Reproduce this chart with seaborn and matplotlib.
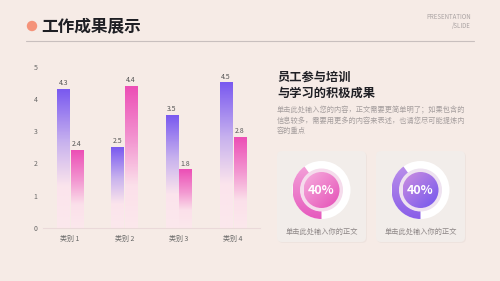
import numpy as np
import pandas as pd
import seaborn as sns
import matplotlib.pyplot as plt
from matplotlib.colors import LinearSegmentedColormap
from matplotlib.patches import Circle, Wedge, FancyBboxPatch

# data
categories = ["类别 1", "类别 2", "类别 3", "类别 4"]
series_a = [4.3, 2.5, 3.5, 4.5]
series_b = [2.4, 4.4, 1.8, 2.8]
y_ticks = [0, 1, 2, 3, 4, 5]
donut_pcts = [40, 40]
donut_captions = ["单击此处输入你的正文", "单击此处输入你的正文"]

title = "工作成果展示"
side_title = ["员工参与培训", "与学习的积极成果"]
side_body = ["单击此处输入您的内容，正文需要更简单明了；如果包含的",
             "信息较多，需要用更多的内容来表述，也请您尽可能提炼内",
             "容的重点"]

BG = "#F6EBE6"
FONTS = ["Noto Sans CJK SC", "DejaVu Sans"]

sns.set_theme(style="white")
plt.rcParams["font.family"] = FONTS

fig = plt.figure(figsize=(5, 2.81), dpi=100)
fig.patch.set_facecolor(BG)

# background / decoration layer in pixel coordinates
bg = fig.add_axes([0, 0, 1, 1], zorder=0)
bg.set_xlim(0, 500)
bg.set_ylim(281, 0)
bg.set_autoscale_on(False)
bg.axis("off")
bg.patch.set_alpha(0)

bg.add_patch(Circle((32, 26), 5.2, facecolor="#F5937A", edgecolor="none"))
bg.text(41, 26, title, fontsize=12, fontweight="bold", color="#1F1F24",
        va="center", ha="left")
bg.plot([26, 474], [41, 41], color="#C8BFBE", lw=0.8)
bg.text(471, 17, "PRESENTATION", fontsize=4.4, color="#A9A2A2", ha="right", va="center")
bg.text(471, 26, "/SLIDE", fontsize=4.4, color="#A9A2A2", ha="right", va="center")

bg.text(277, 77, side_title[0], fontsize=8.8, fontweight="bold", color="#1F1F24", va="center")
bg.text(277, 93, side_title[1], fontsize=8.8, fontweight="bold", color="#1F1F24", va="center")
for i, line in enumerate(side_body):
    bg.text(277, 110 + i * 10.6, line, fontsize=5.2, color="#A59E9E", va="center")

# donut cards
card_x = [277, 376]
ring_cols = [["#F4A6DA", "#E65BBE"], ["#BE92EA", "#8A5FE8"]]
core_cols = [["#F6AEDD", "#E54FB7"], ["#CC8EE0", "#7256EE"]]
halo_cols = ["#F5DCEC", "#EEE2F0"]


def grad_img(c0, c1, diag=True, n=80):
    cm = LinearSegmentedColormap.from_list("g", [c0, c1])
    xx, yy = np.meshgrid(np.linspace(0, 1, n), np.linspace(0, 1, n))
    t = (xx + yy) / 2 if diag else yy
    return cm(t)


for k, (x0, pct) in enumerate(zip(card_x, donut_pcts)):
    bg.add_patch(FancyBboxPatch((x0 + 1, 152), 89, 91, boxstyle="round,pad=0,rounding_size=5",
                                facecolor="#E9DEDA", edgecolor="none", alpha=0.6))
    bg.add_patch(FancyBboxPatch((x0, 151), 89, 91, boxstyle="round,pad=0,rounding_size=5",
                                facecolor="#F2EDEA", edgecolor="none"))
    cx, cy, R = x0 + 44.5, 190, 29
    bg.add_patch(Wedge((cx, cy), R, 0, 360, width=8, facecolor="white", edgecolor="none"))
    arc = Wedge((cx, cy), R, 90, 90 + pct / 100 * 360, width=8, facecolor="none", edgecolor="none")
    bg.add_patch(arc)
    im = bg.imshow(grad_img(*ring_cols[k], diag=False), extent=(cx - R, cx + R, cy + R, cy - R),
                   origin="upper", aspect="auto", zorder=2)
    im.set_clip_path(arc)
    bg.add_patch(Circle((cx, cy), 21.5, facecolor=halo_cols[k], edgecolor="none", zorder=2))
    core = Circle((cx, cy), 18, facecolor="none", edgecolor="none", zorder=3)
    bg.add_patch(core)
    im2 = bg.imshow(grad_img(*core_cols[k]), extent=(cx - 18, cx + 18, cy + 18, cy - 18),
                    origin="upper", aspect="auto", zorder=3)
    im2.set_clip_path(core)
    bg.text(cx, cy, f"{pct}%", fontsize=9, fontweight="bold", color="white",
            ha="center", va="center", zorder=4)
    bg.text(cx, 232, donut_captions[k], fontsize=5.2, color="#8E8787", ha="center", va="center")

bg.set_xlim(0, 500)
bg.set_ylim(281, 0)

# bar chart
df = pd.DataFrame({
    "cat": categories * 2,
    "val": series_a + series_b,
    "series": ["A"] * 4 + ["B"] * 4,
})

ax = fig.add_axes([0.086, 0.189, 0.434, 0.574], zorder=1)
ax.patch.set_alpha(0)
sns.barplot(data=df, x="cat", y="val", hue="series", width=0.5, gap=0.1,
            palette=["#7A5AF0", "#EC4FB6"], legend=False, ax=ax)

cmaps = [
    LinearSegmentedColormap.from_list("pa", [(0, "#FCE8EC"), (0.3, "#FBE4EC"), (0.62, "#C8B2EE"), (1, "#7A5AF0")]),
    LinearSegmentedColormap.from_list("pb", [(0, "#FCE8EC"), (0.3, "#FBE0EA"), (0.6, "#F39AD2"), (1, "#EC4FB6")]),
]
grad = np.linspace(1, 0, 100).reshape(-1, 1)
for cont, cm in zip(ax.containers, cmaps):
    for bar in cont:
        x, w, h = bar.get_x(), bar.get_width(), bar.get_height()
        ax.imshow(grad, extent=(x, x + w, 0, h), cmap=cm, vmin=0, vmax=1,
                  aspect="auto", origin="upper", zorder=2)
        bar.set_alpha(0)
    ax.bar_label(cont, fmt="%.1f", padding=1.5, fontsize=5, color="#555555")

ax.set_xlim(-0.5, 3.5)
ax.set_ylim(0, 5)
ax.set_yticks(y_ticks)
ax.set_xlabel("")
ax.set_ylabel("")
ax.tick_params(axis="both", length=0, labelsize=5, colors="#666666")
ax.tick_params(axis="y", pad=4)
ax.tick_params(axis="x", pad=5)
for s in ["left", "right", "top"]:
    ax.spines[s].set_visible(False)
ax.spines["bottom"].set_color("#EAD9D9")
ax.spines["bottom"].set_linewidth(0.8)

fig.savefig("out.png", dpi=100, facecolor=BG)
